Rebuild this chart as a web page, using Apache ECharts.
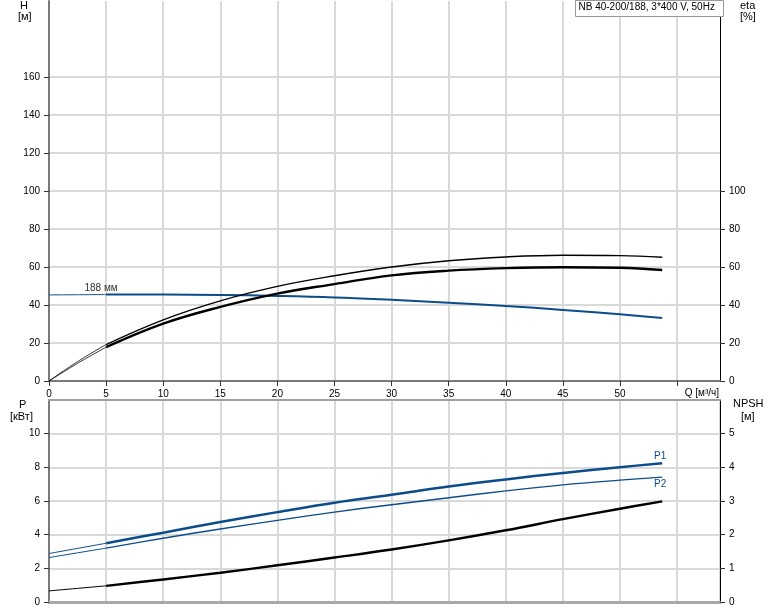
<!DOCTYPE html>
<html><head><meta charset="utf-8">
<script src="https://cdn.jsdelivr.net/npm/echarts@6/dist/echarts.min.js"></script>
<style>html,body{margin:0;padding:0;background:#fff}#c{width:774px;height:611px}</style>
</head><body><div id="c"></div>
<script>
// ---- data ----
const qExt = [0, 2.5, 5];
const qMain = [5, 10, 15, 20, 25, 30, 35, 40, 45, 50, 53.7];
const hExt = [45.3, 45.4, 45.5];
const hMain = [45.5, 45.5, 45.3, 44.8, 44.0, 42.7, 41.2, 39.5, 37.4, 35.1, 33.1];
const etaPumpExt = [0, 10.2, 19.2];
const etaPumpMain = [19.2, 32.2, 42.2, 49.8, 55.4, 60.0, 63.3, 65.3, 66.2, 66.0, 65.1];
const etaTotalExt = [0, 9.3, 17.8];
const etaTotalMain = [17.8, 30.2, 39.0, 46.0, 51.0, 55.6, 58.1, 59.4, 59.9, 59.6, 58.4];
const qExt2 = [0, 5];
const p1Ext = [2.88, 3.49];
const p1Main = [3.49, 4.12, 4.75, 5.34, 5.90, 6.37, 6.86, 7.28, 7.67, 8.01, 8.24];
const p2Ext = [2.64, 3.20];
const p2Main = [3.20, 3.79, 4.34, 4.85, 5.34, 5.78, 6.19, 6.60, 6.96, 7.24, 7.42];
const npshExt = [0.33, 0.48];
const npshMain = [0.48, 0.67, 0.87, 1.09, 1.32, 1.56, 1.83, 2.13, 2.46, 2.77, 2.99];
const xTicks = [0, 5, 10, 15, 20, 25, 30, 35, 40, 45, 50, 55];
const xLabels = [0, 5, 10, 15, 20, 25, 30, 35, 40, 45, 50];
const hTicks = [0, 20, 40, 60, 80, 100, 120, 140, 160];
const etaTicks = [0, 20, 40, 60, 80, 100];
const pTicks = [0, 2, 4, 6, 8, 10];
const npshTicks = [0, 1, 2, 3, 4, 5];
const title = 'NB 40-200/188, 3*400 V, 50Hz';

const pairs = (xs, ys) => xs.map((x, i) => [x, ys[i]]);
const FONT = 'Liberation Sans, Arial, sans-serif';
const BLUE = '#0b4d8c';
const GRID = '#d9d9d9';

const chart = echarts.init(document.getElementById('c'), null, {renderer: 'canvas'});

function xAx(gi, opts) {
  return Object.assign({
    type: 'value', gridIndex: gi, min: 0, max: 58.76, interval: 5,
    axisLine: {show: true, onZero: false, lineStyle: {color: '#808080', width: 2}},
    axisTick: {show: false},
    axisLabel: {show: false},
    splitLine: {show: true, lineStyle: {color: GRID, width: 2}}
  }, opts);
}
function yAx(gi, pos, max, interval, ticks, lineColor, lineWidth, split) {
  return {
    type: 'value', gridIndex: gi, position: pos, min: 0, max: max, interval: interval,
    axisLine: {show: true, onZero: false, lineStyle: {color: lineColor, width: lineWidth}},
    axisTick: {show: true, customValues: ticks, length: 5, lineStyle: {color: '#333'}},
    axisLabel: {show: true, customValues: ticks, fontSize: 10, color: '#000', fontFamily: FONT, margin: 9},
    splitLine: {show: split, lineStyle: {color: GRID, width: 2}}
  };
}
function line(name, xi, yi, data, color, width, extra) {
  return Object.assign({
    name: name, type: 'line', xAxisIndex: xi, yAxisIndex: yi, data: data,
    smooth: 0.4, showSymbol: false, symbol: 'none', silent: true,
    lineStyle: {color: color, width: width}, itemStyle: {color: color}
  }, extra || {});
}

const option = {
  animation: false,
  backgroundColor: '#fff',
  grid: [
    {left: 49, top: 1, width: 671, height: 380},
    {left: 49, top: 400, width: 671, height: 202}
  ],
  xAxis: [
    xAx(0, {
      axisLine: {show: true, onZero: false, lineStyle: {color: '#7a7a7a', width: 2}},
      axisTick: {show: true, customValues: xTicks, length: 5, lineStyle: {color: '#333'}},
      axisLabel: {show: true, customValues: xLabels, fontSize: 10, color: '#000', fontFamily: FONT, margin: 8}
    }),
    xAx(1, {position: 'bottom', axisLine: {show: true, onZero: false, lineStyle: {color: '#a8a8a8', width: 3}}}),
    xAx(1, {position: 'top', splitLine: {show: false}, axisLine: {show: true, onZero: false, lineStyle: {color: '#a0a0a0', width: 2}}})
  ],
  yAxis: [
    yAx(0, 'left', 200, 20, hTicks, '#7a7a7a', 2, true),
    yAx(0, 'right', 200, 20, etaTicks, '#000', 1, false),
    yAx(1, 'left', 12, 2, pTicks, '#7a7a7a', 2, true),
    yAx(1, 'right', 6, 1, npshTicks, '#000', 1, false)
  ],
  series: [
    line('H ext', 0, 0, pairs(qExt, hExt), BLUE, 1, {
      endLabel: {show: true, formatter: '188 мм', color: '#333', fontSize: 10, fontFamily: FONT,
        align: 'center', verticalAlign: 'bottom', distance: 0, offset: [-5, -1]}
    }),
    line('H', 0, 0, pairs(qMain, hMain), BLUE, 2),
    line('eta pump ext', 0, 1, pairs(qExt, etaPumpExt), '#000', 0.8),
    line('eta pump', 0, 1, pairs(qMain, etaPumpMain), '#000', 1.4),
    line('eta total ext', 0, 1, pairs(qExt, etaTotalExt), '#000', 0.8),
    line('eta total', 0, 1, pairs(qMain, etaTotalMain), '#000', 2.4),
    line('P1 ext', 1, 2, pairs(qExt2, p1Ext), BLUE, 1),
    line('P1', 1, 2, pairs(qMain, p1Main), BLUE, 2.5, {
      endLabel: {show: true, formatter: 'P1', color: BLUE, fontSize: 10, fontFamily: FONT,
        align: 'center', verticalAlign: 'bottom', distance: 0, offset: [-2, -2]}
    }),
    line('P2 ext', 1, 2, pairs(qExt2, p2Ext), BLUE, 1),
    line('P2', 1, 2, pairs(qMain, p2Main), BLUE, 1.4, {
      endLabel: {show: true, formatter: 'P2', color: BLUE, fontSize: 10, fontFamily: FONT,
        align: 'center', verticalAlign: 'top', distance: 0, offset: [-2, 2]}
    }),
    line('NPSH ext', 1, 3, pairs(qExt2, npshExt), '#000', 1),
    line('NPSH', 1, 3, pairs(qMain, npshMain), '#000', 2.4)
  ],
  graphic: [
    {type: 'text', left: 20, top: 0, style: {text: 'H', fill: '#000', font: '11px ' + FONT}},
    {type: 'text', left: 18, top: 11, style: {text: '[м]', fill: '#000', font: '11px ' + FONT}},
    {type: 'text', left: 740, top: 0, style: {text: 'eta', fill: '#000', font: '11px ' + FONT}},
    {type: 'text', left: 740, top: 11, style: {text: '[%]', fill: '#000', font: '11px ' + FONT}},
    {type: 'text', left: 19, top: 399, style: {text: 'P', fill: '#000', font: '11px ' + FONT}},
    {type: 'text', left: 10, top: 411, style: {text: '[кВт]', fill: '#000', font: '11px ' + FONT}},
    {type: 'text', left: 733, top: 398, style: {text: 'NPSH', fill: '#000', font: '11px ' + FONT}},
    {type: 'text', left: 741, top: 411, style: {text: '[м]', fill: '#000', font: '11px ' + FONT}},
    {type: 'text', right: 55, top: 388, style: {text: 'Q [м³/ч]', fill: '#000', font: '10px ' + FONT}},
    {type: 'group', left: 575, top: 0, z: 100, children: [
      {type: 'rect', z: 100, shape: {x: 0, y: 0, width: 148, height: 16}, style: {fill: '#fff', stroke: '#999', lineWidth: 1}},
      {type: 'text', z: 101, x: 3, y: 2, style: {text: title, fill: '#000', font: '10px ' + FONT}}
    ]}
  ]
};
chart.setOption(option);
</script>
</body></html>
